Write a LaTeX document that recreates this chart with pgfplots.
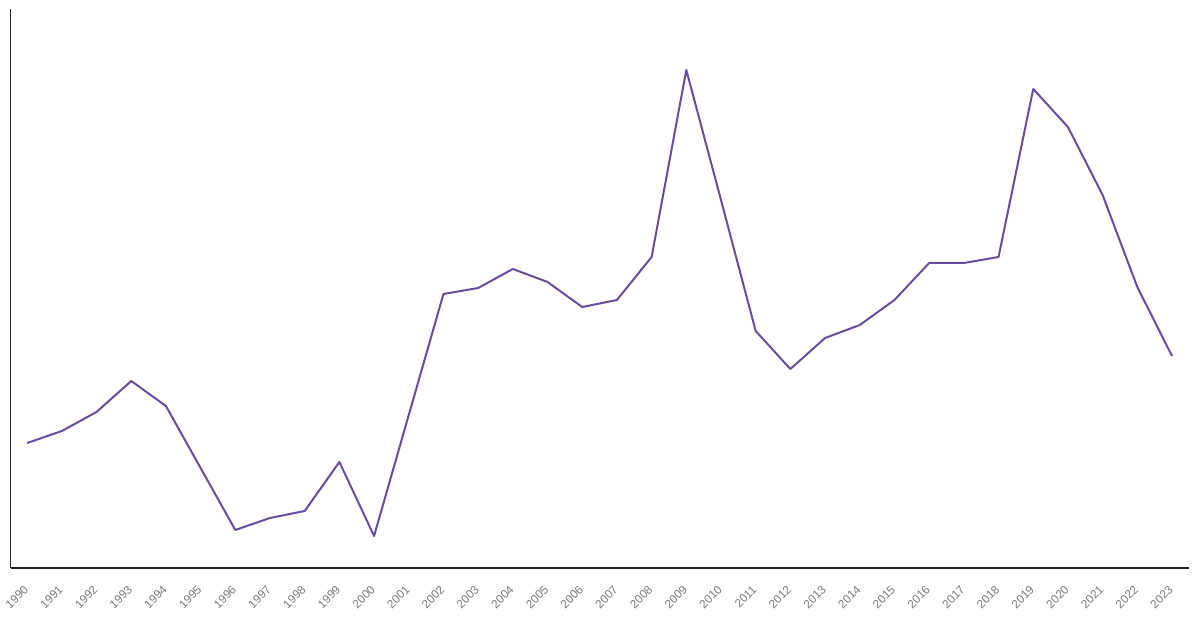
\documentclass[border=0pt]{standalone}
\usepackage{pgfplots}
\pgfplotsset{compat=1.18}
\usepackage{fontspec}
\setmainfont{Liberation Sans}
\definecolor{linec}{RGB}{106,76,158}
\definecolor{axc}{RGB}{34,34,34}
\definecolor{tickc}{RGB}{120,120,120}
\begin{document}
\begin{tikzpicture}
\path[use as bounding box] (-7.875pt,-45pt) rectangle (892.125pt,426pt);
\begin{axis}[
  at={(0,0)}, anchor=south west,
  scale only axis,
  width=883.875pt, height=419.25pt,
  xmin=1989.52, xmax=2023.49,
  ymin=0, ymax=559,
  axis x line*=bottom, axis y line*=left,
  axis line style={axc, line width=1pt, -},
  ytick=\empty,
  xtick={1990,...,2023},
  major tick length=0pt,
  /pgf/number format/set thousands separator={},
  /pgf/number format/assume math mode=true,
  xticklabel style={rotate=45, anchor=east, inner sep=1pt, font=\fontsize{8.8}{10}\selectfont, text=tickc},
  xticklabel shift=14pt,
  clip=false,
]
\addplot[linec, line width=1.5pt, line join=round] coordinates {
(1990,125) (1991,137) (1992,156) (1993,187) (1994,162) (1995,100) (1996,38)
(1997,50) (1998,57) (1999,106) (2000,32) (2001,153) (2002,274) (2003,280)
(2004,299) (2005,286) (2006,261) (2007,268) (2008,311) (2009,498) (2010,368)
(2011,237) (2012,199) (2013,230) (2014,243) (2015,268) (2016,305) (2017,305)
(2018,311) (2019,479) (2020,441) (2021,373) (2022,281) (2023,212)
};
\end{axis}
\end{tikzpicture}
\end{document}
